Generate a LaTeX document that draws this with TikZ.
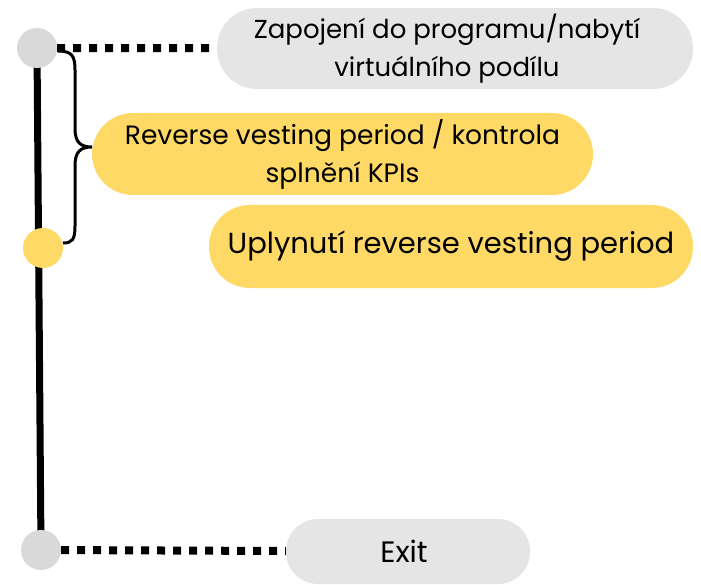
\documentclass[tikz,border=0pt]{standalone}
\usepackage{fontspec}
\setmainfont{Poppins}
\usetikzlibrary{positioning,backgrounds}

\definecolor{pillgray}{HTML}{E5E5E5}
\definecolor{dotgray}{HTML}{D9D9D9}
\definecolor{pillyellow}{HTML}{FFD966}

\tikzset{
  pill/.style={rounded corners=#1, inner sep=0pt, align=center},
  dot/.style={circle, minimum size=40pt, inner sep=0pt},
  dotline/.style={line width=8pt, dash pattern=on 8pt off 8pt},
}

\begin{document}
\begin{tikzpicture}[x=1pt,y=-1pt]
            \useasboundingbox (0,0) rectangle (701,585);
            % milestones on the timeline
            \node[dot,fill=dotgray] (start) at (37,48) {};
            \node[dot,fill=pillyellow] (vest) at (43,248) {};
            \node[dot,fill=dotgray] (exit) at (41,550) {};
            % labels
            \node[pill=40pt,fill=pillgray,minimum width=476pt,minimum height=81pt,font=\fontsize{26}{38}\selectfont] (zapojeni) at (455,48.5) {\hspace*{-16pt}Zapojení do programu/nabytí\\\hspace*{-16pt}virtuálního podílu};
            \node[pill=41pt,fill=pillyellow,minimum width=501pt,minimum height=82pt,font=\fontsize{26.5}{38}\selectfont] (reverse) at (342.5,154) {Reverse vesting period / kontrola\\splnění KPIs};
            \node[pill=41pt,fill=pillyellow,minimum width=484pt,minimum height=83pt,font=\fontsize{29}{34}\selectfont] (uplynuti) at (451,246.5) {Uplynutí reverse vesting period};
            \node[pill=32pt,fill=pillgray,minimum width=244pt,minimum height=65pt,font=\fontsize{29.5}{34}\selectfont] (exitlbl) at (408,551.5) {\hspace*{-8pt}Exit};
            % timeline and connectors
            \begin{pgfonlayer}{background}
              \draw[line width=7pt] (start.center) -- (exit.center);
            \end{pgfonlayer}
            \draw[dotline] (start) -- (zapojeni);
            \draw[dotline] (exit) -- (exitlbl);
            % brace
            \draw[line width=3pt] (58,51) .. controls (72,51) and (75,56) .. (75,70) -- (75,128)
              .. controls (75,142) and (80,147) .. (92,147)
              .. controls (80,147) and (75,152) .. (75,166) -- (75,226)
              .. controls (75,240) and (72,243) .. (63,243);
          \end{tikzpicture}
\end{document}
